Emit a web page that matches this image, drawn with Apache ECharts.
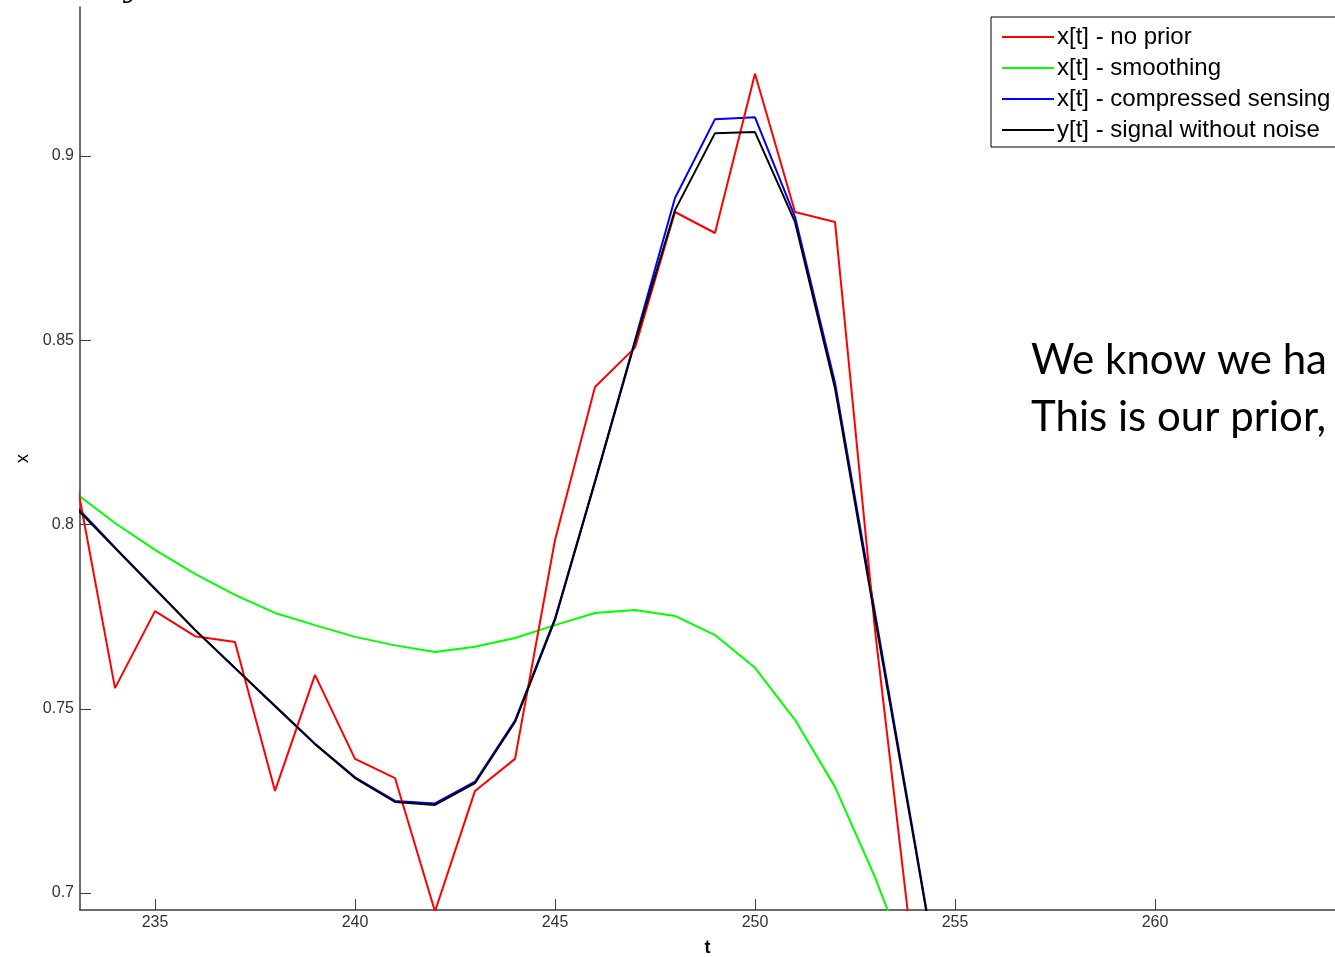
<!DOCTYPE html>
<html><head><meta charset="utf-8">
<script src="https://cdn.jsdelivr.net/npm/echarts@6/dist/echarts.min.js"></script>
<style>html,body{margin:0;padding:0;background:#fff;overflow:hidden}#c{width:1335px;height:957px}</style>
</head><body><div id="c"></div>
<script>
// time index
const tValues = [233,234,235,236,237,238,239,240,241,242,243,244,245,246,247,248,249,250,251,252,253,254,255];
// x[t] - no prior
const noPrior = [0.814,0.7556,0.7765,0.7697,0.7681,0.7277,0.7592,0.7364,0.7312,0.6950,0.7277,0.7364,0.7958,0.8373,0.8480,0.8848,0.8791,0.9223,0.8848,0.8821,0.7714,0.6780,0.6300];
// x[t] - smoothing
const smoothing = [0.8086,0.8004,0.7931,0.7866,0.7809,0.7760,0.7727,0.7695,0.7672,0.7654,0.7668,0.7692,0.7727,0.7760,0.7768,0.7752,0.7700,0.7611,0.7470,0.7288,0.7043,0.6760,0.6400];
// x[t] - compressed sensing
const compressed = [0.8052,0.7938,0.7826,0.7714,0.7610,0.7508,0.7405,0.7314,0.7250,0.7243,0.7302,0.7468,0.7745,0.8118,0.8500,0.8886,0.9100,0.9105,0.8835,0.8385,0.7760,0.7136,0.6500];
// y[t] - signal without noise
const signal = [0.8048,0.7936,0.7825,0.7714,0.7611,0.7507,0.7404,0.7312,0.7247,0.7239,0.7298,0.7464,0.7741,0.8115,0.8495,0.8853,0.9062,0.9065,0.8821,0.8370,0.7746,0.7128,0.6500];

const seriesNames = ['x[t] - no prior','x[t] - smoothing','x[t] - compressed sensing','y[t] - signal without noise'];
const seriesColors = ['#ff0000','#00ff00','#0000ff','#000000'];
const xTicks = [235,240,245,250,255,260];
const yTicks = [0.7,0.75,0.8,0.85,0.9];
const annotationLines = ['We know we ha','This is our prior,'];

const pairs = arr => tValues.map((t,i)=>[t,arr[i]]);
const allData = [noPrior, smoothing, compressed, signal];

const chart = echarts.init(document.getElementById('c'), null, {renderer:'canvas'});
const axisColor = '#3c3c3c';
const labelFont = 'Liberation Sans, Arial, sans-serif';
chart.setOption({
  animation:false,
  backgroundColor:'#fff',
  grid:{left:80,right:0,top:7,bottom:47,containLabel:false,outerBoundsMode:'none'},
  xAxis:{
    type:'value', min:233.125, max:264.5,
    name:'t', nameLocation:'middle', nameGap:29,
    nameTextStyle:{fontFamily:labelFont,fontSize:18,fontWeight:'bold',color:'#000'},
    axisLine:{show:true,lineStyle:{color:axisColor,width:1.5}},
    axisTick:{show:true,inside:true,length:11,customValues:xTicks,lineStyle:{color:axisColor,width:1}},
    axisLabel:{customValues:xTicks,fontFamily:labelFont,fontSize:16,color:'#333',margin:5},
    splitLine:{show:false}
  },
  yAxis:{
    type:'value', min:0.69539, max:0.94043,
    name:'x', nameLocation:'middle', nameGap:48, nameRotate:90,
    nameTextStyle:{fontFamily:labelFont,fontSize:18,color:'#000'},
    axisLine:{show:true,lineStyle:{color:axisColor,width:1.5}},
    axisTick:{show:true,inside:true,length:11,customValues:yTicks,lineStyle:{color:axisColor,width:1}},
    axisLabel:{customValues:yTicks,fontFamily:labelFont,fontSize:16,color:'#333',margin:6,
      formatter:v=>String(+v.toFixed(2))},
    splitLine:{show:false}
  },
  legend:{
    orient:'vertical', left:991, top:17,
    data:seriesNames,
    icon:'rect', itemWidth:52, itemHeight:2, itemGap:7,
    padding:[8,10,5,11],
    borderColor:'#000', borderWidth:1, borderRadius:0, backgroundColor:'#fff',
    selectedMode:false,
    textStyle:{fontFamily:labelFont,fontSize:24,color:'#000',lineHeight:24,padding:[0,0,0,-2]}
  },
  graphic:[
    {type:'text', left:1031, top:339, style:{text:annotationLines[0], font:'42px Lato, sans-serif', fill:'#000'}},
    {type:'text', left:1031, top:396, style:{text:annotationLines[1], font:'42px Lato, sans-serif', fill:'#000'}},
    {type:'text', left:124, top:-24, style:{text:'y', font:'italic 28px "DejaVu Serif", serif', fill:'#000'}}
  ],
  series: seriesNames.map((name,i)=>({
    name, type:'line', data:pairs(allData[i]),
    showSymbol:false, symbol:'none', clip:true,
    z: i===0 ? 5 : 2+i,
    color:seriesColors[i],
    lineStyle:{color:seriesColors[i], width:2},
    itemStyle:{color:seriesColors[i]}
  }))
});
</script>
</body></html>
